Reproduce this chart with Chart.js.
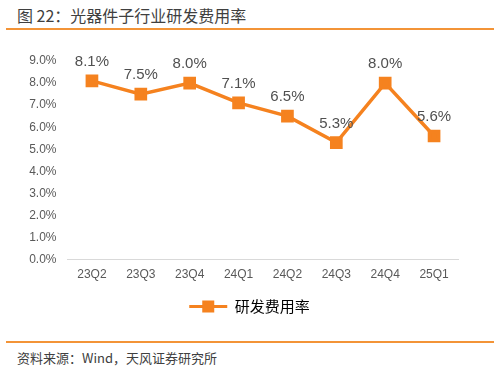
<!DOCTYPE html>
<html>
<head>
<meta charset="utf-8">
<script src="https://cdn.jsdelivr.net/npm/chart.js@4/dist/chart.umd.min.js"></script>
<style>
  body { margin: 0; width: 499px; height: 372px; background: #fff; position: relative; overflow: hidden;
         font-family: "Noto Sans CJK SC", "Noto Sans", sans-serif; }
  #title { position: absolute; left: 17px; top: 3px; font-size: 16px; color: #3f3f3f; }
  .rule { position: absolute; left: 6px; width: 488px; height: 2px; background: #f39437; }
  #src { position: absolute; left: 17px; top: 348px; font-size: 13px; color: #404040; }
  #box { position: absolute; left: 0; top: 36px; width: 499px; height: 288px; }
</style>
</head>
<body>
<div id="title">图 22：光器件子行业研发费用率</div>
<div class="rule" style="top:28px"></div>
<div id="box"><canvas id="canvas1"></canvas></div>
<div class="rule" style="top:341px"></div>
<div id="src">资料来源：Wind，天风证券研究所</div>
<script>
var quarters = ["23Q2", "23Q3", "23Q4", "24Q1", "24Q2", "24Q3", "24Q4", "25Q1"];
var rdRatio = [8.1, 7.5, 8.0, 7.1, 6.5, 5.3, 8.0, 5.6];
var seriesName = "研发费用率";

var orange = "#f5821f";

// value labels above the points + square marker in the legend line
var pointLabels = {
  id: "pointLabels",
  afterDatasetsDraw: function(chart) {
    var ctx = chart.ctx;
    var meta = chart.getDatasetMeta(0);
    ctx.save();
    ctx.font = "15px 'Liberation Sans', sans-serif";
    ctx.fillStyle = "#505050";
    ctx.textAlign = "center";
    ctx.textBaseline = "alphabetic";
    meta.data.forEach(function(pt, i) {
      ctx.fillText(rdRatio[i].toFixed(1) + "%", pt.x, pt.y - 15);
    });
    ctx.restore();
  },
  afterDraw: function(chart) {
    var box = chart.legend.legendHitBoxes[0];
    if (!box) return;
    var ctx = chart.ctx;
    ctx.save();
    ctx.fillStyle = orange;
    var cx = box.left + 19, cy = box.top + box.height / 2;
    ctx.fillRect(cx - 6, cy - 6, 12, 12);
    ctx.restore();
  }
};

window.onload = function() {
  var ctx = document.getElementById("canvas1").getContext("2d");
  window.myLine = new Chart(ctx, {
    type: "line",
    data: {
      labels: quarters,
      datasets: [{
        label: seriesName,
        data: rdRatio,
        borderColor: orange,
        backgroundColor: orange,
        borderWidth: 3.5,
        pointStyle: "rect",
        pointRadius: 6.5,
        pointHoverRadius: 6.5,
        tension: 0
      }]
    },
    options: {
      responsive: true,
      maintainAspectRatio: false,
      animation: false,
      layout: { padding: { left: 0, right: 0, top: 25, bottom: 0 } },
      plugins: {
        tooltip: { enabled: false },
        legend: {
          position: "bottom",
          labels: {
            color: "#404040",
            font: { size: 15, family: "'Noto Sans CJK SC', sans-serif" },
            boxWidth: 38,
            boxHeight: 3,
            padding: 9,
            generateLabels: function(chart) {
              return [{
                text: seriesName,
                fillStyle: orange,
                strokeStyle: orange,
                lineWidth: 0,
                datasetIndex: 0
              }];
            }
          }
        }
      },
      scales: {
        x: {
          offset: true,
          grid: { display: false, drawTicks: false },
          border: { color: "#d9d9d9", width: 1 },
          ticks: { color: "#595959", font: { size: 12, family: "'Liberation Sans', sans-serif" }, padding: 8 }
        },
        y: {
          min: 0,
          max: 9,
          grid: { display: false, drawTicks: false },
          border: { display: false },
          afterFit: function(scale) { scale.width = 67.5; },
          ticks: {
            stepSize: 1,
            color: "#595959",
            font: { size: 12, family: "'Liberation Sans', sans-serif" },
            padding: 11,
            callback: function(v) { return v.toFixed(1) + "%"; }
          }
        },
        yRight: {
          position: "right",
          grid: { display: false, drawTicks: false },
          border: { display: false },
          ticks: { display: false },
          afterFit: function(scale) { scale.width = 40.5; }
        }
      }
    },
    plugins: [pointLabels]
  });
};
</script>
</body>
</html>
